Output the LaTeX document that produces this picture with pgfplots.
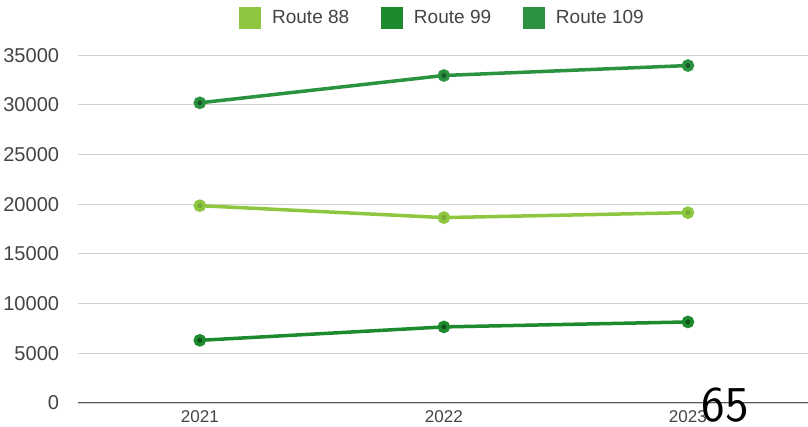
\documentclass[border=0pt]{standalone}
\usepackage{pgfplots}
\pgfplotsset{compat=1.18}
\usepackage{fontspec}
\setmainfont{Liberation Sans}
\definecolor{rlight}{HTML}{8DC63F}
\definecolor{rdark}{HTML}{1E8A2E}
\definecolor{rmid}{HTML}{2B9340}
\definecolor{txt}{HTML}{444444}
\begin{document}
\begin{tikzpicture}
\begin{axis}[
    scale only axis,
    width=728pt, height=347pt,
    xmin=-0.5, xmax=2.49,
    ymin=0, ymax=35000,
    xtick={0,1,2}, xticklabels={2021,2022,2023},
    ytick={0,5000,...,35000},
    scaled y ticks=false,
    /pgf/number format/1000 sep={},
    /pgf/number format/assume math mode=true,
    ymajorgrids, grid style={draw=black!18, line width=0.8pt},
    axis x line=bottom, axis y line=left,
    y axis line style={draw=none},
    x axis line style={-, draw=black!65, line width=1pt},
    tick style={draw=none},
    ticklabel style={font=\fontsize{20}{22}\selectfont, text=txt},
    xticklabel style={font=\fontsize{17}{19}\selectfont, yshift=-2pt},
    yticklabel style={xshift=-13pt},
    legend style={at={(0.5,1)}, anchor=south, yshift=24pt, draw=none,
        legend columns=-1, font=\fontsize{19}{21}\selectfont, text=txt,
        /tikz/every odd column/.append style={column sep=9pt},
        /tikz/every even column/.append style={column sep=30pt}},
    legend image code/.code={\fill[#1] (0pt,-9pt) rectangle (18pt,9pt);},
    every axis plot/.append style={line width=3.5pt, mark=*, mark size=4.5pt},
]
\addplot[color=rlight, mark options={fill=rlight!85!black, draw=none}] coordinates {(0,19850) (1,18650) (2,19150)};
\addlegendentry{Route 88}
\addplot[color=rdark, mark options={fill=rdark!60!black, draw=none}] coordinates {(0,6300) (1,7650) (2,8150)};
\addlegendentry{Route 99}
\addplot[color=rmid, mark options={fill=rmid!60!black, draw=none}] coordinates {(0,30200) (1,32950) (2,33950)};
\addlegendentry{Route 109}
\end{axis}
\path (0pt,402pt);
\node[anchor=base, font=\fontsize{50}{52}\selectfont\sffamily] at (646pt,-19pt) {65};
\end{tikzpicture}
\end{document}
